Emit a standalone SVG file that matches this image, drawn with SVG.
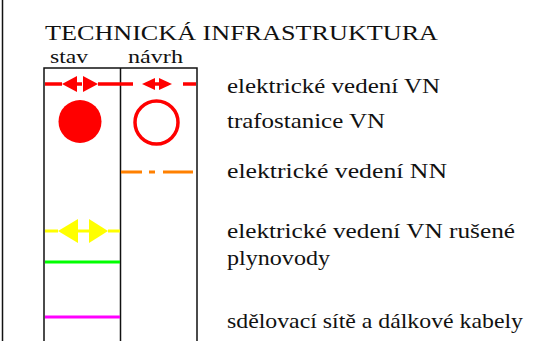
<svg xmlns="http://www.w3.org/2000/svg" width="545" height="341" viewBox="0 0 545 341">
<style>
.t{font-family:"Liberation Serif",serif;font-size:21px;fill:#111}
.h{font-family:"Liberation Serif",serif;font-size:19px;fill:#111}
.g{stroke:#111;stroke-width:1.5;fill:none}
</style>
<rect width="545" height="341" fill="#fff"/>
<g id="frame">
<line class="g" x1="2.5" y1="0" x2="2.5" y2="341"/>
</g>
<g id="table">
<polyline class="g" points="44,341 44,68 197,68 197,341"/>
<line class="g" x1="120.5" y1="68" x2="120.5" y2="341"/>
</g>
<g id="header">
<text x="45" y="40" class="t" font-family="Liberation Serif" font-size="22" textLength="393" lengthAdjust="spacingAndGlyphs">TECHNICKÁ INFRASTRUKTURA</text>
<text x="50" y="63" class="h" font-family="Liberation Serif" textLength="38" lengthAdjust="spacingAndGlyphs">stav</text>
<text x="128" y="63" class="h" font-family="Liberation Serif" textLength="55" lengthAdjust="spacingAndGlyphs">návrh</text>
</g>
<g id="labels">
<text x="227" y="93" class="t" font-family="Liberation Serif" textLength="213" lengthAdjust="spacingAndGlyphs">elektrické vedení VN</text>
<text x="227" y="128" class="t" font-family="Liberation Serif" textLength="158" lengthAdjust="spacingAndGlyphs">trafostanice VN</text>
<text x="227" y="178" class="t" font-family="Liberation Serif" textLength="220" lengthAdjust="spacingAndGlyphs">elektrické vedení NN</text>
<text x="227" y="238" class="t" font-family="Liberation Serif" textLength="288" lengthAdjust="spacingAndGlyphs">elektrické vedení VN rušené</text>
<text x="227" y="265" class="t" font-family="Liberation Serif" textLength="103" lengthAdjust="spacingAndGlyphs">plynovody</text>
<text x="227" y="328" class="t" font-family="Liberation Serif" textLength="296" lengthAdjust="spacingAndGlyphs">sdělovací sítě a dálkové kabely</text>
</g>
<g id="connectors">
<g id="vn-stav">
<line x1="45" y1="84" x2="62" y2="84" stroke="#f00" stroke-width="3.5"/>
<line x1="76" y1="84" x2="82" y2="84" stroke="#f00" stroke-width="3.5"/>
<line x1="98" y1="84" x2="120" y2="84" stroke="#f00" stroke-width="3.5"/>
<polygon points="62,84 77,76 77,92" fill="#f00"/>
<polygon points="98,84 83,76 83,92" fill="#f00"/>
</g>
<g id="vn-navrh">
<line x1="120" y1="84" x2="133" y2="84" stroke="#f00" stroke-width="3.5"/>
<line x1="154" y1="84" x2="160" y2="84" stroke="#f00" stroke-width="3.5"/>
<line x1="183" y1="84" x2="196" y2="84" stroke="#f00" stroke-width="3.5"/>
<polygon points="142,84 155,78 155,90" fill="#f00"/>
<polygon points="172,84 159,78 159,90" fill="#f00"/>
</g>
<g id="trafo">
<circle cx="80" cy="121.5" r="21.5" fill="#f00"/>
<circle cx="156.5" cy="122.5" r="21.5" fill="none" stroke="#f00" stroke-width="3.5"/>
</g>
<g id="nn">
<line x1="121" y1="172" x2="196" y2="172" stroke="#ff8000" stroke-width="3" stroke-dasharray="21,7,6,8,30"/>
</g>
<g id="vn-rusene">
<line x1="45" y1="231" x2="58" y2="231" stroke="#ff0" stroke-width="3"/>
<line x1="78" y1="231" x2="89" y2="231" stroke="#ff0" stroke-width="3"/>
<line x1="108" y1="231" x2="120" y2="231" stroke="#ff0" stroke-width="3"/>
<polygon points="58,231 78,219 78,243" fill="#ff0"/>
<polygon points="108,231 89,219 89,243" fill="#ff0"/>
</g>
<line id="plyn" x1="45" y1="262" x2="120" y2="262" stroke="#0f0" stroke-width="3"/>
<line id="sdel" x1="45" y1="317" x2="120" y2="317" stroke="#f0f" stroke-width="3"/>
</g>
</svg>
